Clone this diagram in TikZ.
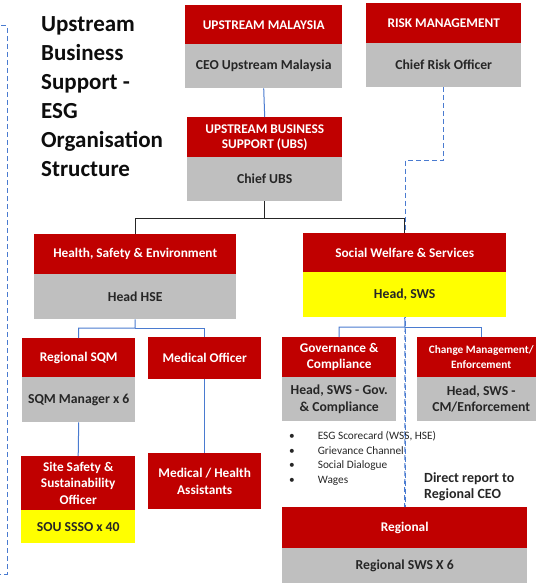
\documentclass[tikz,border=0pt]{standalone}
\usepackage{fontspec}
\setmainfont{Carlito}
\definecolor{hred}{HTML}{C00000}
\definecolor{bgrey}{HTML}{BFBFBF}
\definecolor{byel}{HTML}{FFFF00}
\definecolor{lblue}{HTML}{4A7BD0}
\definecolor{dtext}{HTML}{262626}
\tikzset{
  hdr/.style={fill=hred, text=white, font=\bfseries\fontsize{13.3}{15}\selectfont, align=center, inner sep=1pt, anchor=north west},
  bodyg/.style={fill=bgrey, text=dtext, font=\bfseries\fontsize{13.7}{16.5}\selectfont, align=center, inner sep=1pt, anchor=north west},
  bodyy/.style={bodyg, fill=byel},
  bline/.style={draw=lblue, line width=1pt},
  kline/.style={draw=black!85, line width=1pt},
  dline/.style={draw=lblue, line width=1pt, dash pattern=on 5pt off 3pt},
}
\begin{document}
\begin{tikzpicture}[x=1pt,y=-1pt]
\useasboundingbox (0,0) rectangle (535,583);
% coordinates for connector bends
\coordinate (rk1) at (405,160);
\coordinate (t1) at (264,218);
\coordinate (t2) at (135,328);
\coordinate (t3) at (405,327);
\coordinate (lt) at (7,26);
\coordinate (lb) at (7,574);
\coordinate (ltt) at (1,26);
\coordinate (lbb) at (0,574);
% left dashed bracket
\draw[dline] (ltt) -- (lt) -- (lb) -- (lbb);
% risk dashed line
\draw[dline] (443.5,87) |- (rk1) -- (405,507);
% title
\node[anchor=north west, inner sep=0pt, align=left, text=black!95, font=\bfseries\fontsize{23}{29}\selectfont] (title) at (41,16)
  {Upstream\\Business\\Support -\\ESG\\Organisation\\Structure};
% boxes
\node[hdr, minimum width=157, minimum height=39] (umh) at (185,5) {UPSTREAM MALAYSIA};
\node[bodyg, minimum width=157, minimum height=44] (umb) at (185,44) {CEO Upstream Malaysia};
\node[hdr, minimum width=155, minimum height=40] (rmh) at (366,3) {RISK MANAGEMENT};
\node[bodyg, minimum width=155, minimum height=44] (rmb) at (366,43) {Chief Risk Officer};
\node[hdr, minimum width=155, minimum height=40] (ubsh) at (187,117) {UPSTREAM BUSINESS\\SUPPORT (UBS)};
\node[bodyg, minimum width=155, minimum height=44] (ubsb) at (187,157) {Chief UBS};
\node[hdr, minimum width=202, minimum height=40] (hseh) at (34,234) {Health, Safety \& Environment};
\node[bodyg, minimum width=202, minimum height=45] (hseb) at (34,274) {Head HSE};
\node[hdr, minimum width=203, minimum height=39] (swsh) at (303,233) {Social Welfare \& Services};
\node[bodyy, minimum width=203, minimum height=45] (swsb) at (303,272) {Head, SWS};
\node[hdr, minimum width=113, minimum height=39] (sqmh) at (22,338) {Regional SQM};
\node[bodyg, minimum width=113, minimum height=45] (sqmb) at (22,377) {SQM Manager x 6};
\node[hdr, minimum width=113, minimum height=42] (moh) at (148,337) {Medical Officer};
\node[hdr, minimum width=114, minimum height=54, font=\bfseries\fontsize{13.3}{16.5}\selectfont] (siteh) at (21,456) {Site Safety \&\\Sustainability\\Officer};
\node[bodyy, minimum width=114, minimum height=33] (siteb) at (21,510) {SOU SSSO x 40};
\node[hdr, minimum width=113, minimum height=56, font=\bfseries\fontsize{13.3}{16.5}\selectfont] (mhah) at (148,453) {Medical / Health\\Assistants};
\node[hdr, minimum width=114, minimum height=40, font=\bfseries\fontsize{13.3}{16.5}\selectfont] (gch) at (282,337) {Governance \&\\Compliance};
\node[bodyg, minimum width=114, minimum height=44] (gcb) at (282,377) {Head, SWS - Gov.\\\& Compliance};
\node[hdr, minimum width=128, minimum height=40, font=\bfseries\fontsize{11.3}{15}\selectfont] (cmh) at (417,337) {Change Management/\\Enforcement};
\node[bodyg, minimum width=128, minimum height=44] (cmb) at (417,377) {Head, SWS -\\CM/Enforcement};
\node[hdr, minimum width=245, minimum height=41] (regh) at (282,507) {Regional};
\node[bodyg, minimum width=245, minimum height=35] (regb) at (282,548) {Regional SWS X 6};
% connectors
\draw[bline] (umb.south) -- (ubsh.north);
\draw[kline] (ubsb.south) -- (ubsb.south |- t1) -| (hseh.north);
\draw[kline] (ubsb.south |- t1) -| (swsh.north);
\draw[bline] (hseb.south) -- (t2) -| (sqmh.north);
\draw[bline] (t2) -| (moh.north);
\draw[bline] (swsb.south) -- (t3) -| (gch.north);
\draw[bline] (t3) -| (cmh.north);
\draw[bline] (sqmb.south) -- (siteh.north);
\draw[bline] (moh.south) -- (mhah.north);
\draw[dline] (t3) -- (regh.north);
% bullets
\node[anchor=north west, inner sep=0pt, text=dtext, font=\fontsize{11.3}{14.6}\selectfont] (bul) at (289,429)
  {\begin{tabular}{@{}l@{\hspace{23pt}}l@{}}
  \textbullet & ESG Scorecard (WSS, HSE)\\
  \textbullet & Grievance Channel\\
  \textbullet & Social Dialogue\\
  \textbullet & Wages
  \end{tabular}};
\node[anchor=north west, inner sep=0pt, align=left, text=dtext, font=\bfseries\fontsize{14}{16.5}\selectfont] (drep) at (424,472)
  {Direct report to\\Regional CEO};
\end{tikzpicture}
\end{document}
